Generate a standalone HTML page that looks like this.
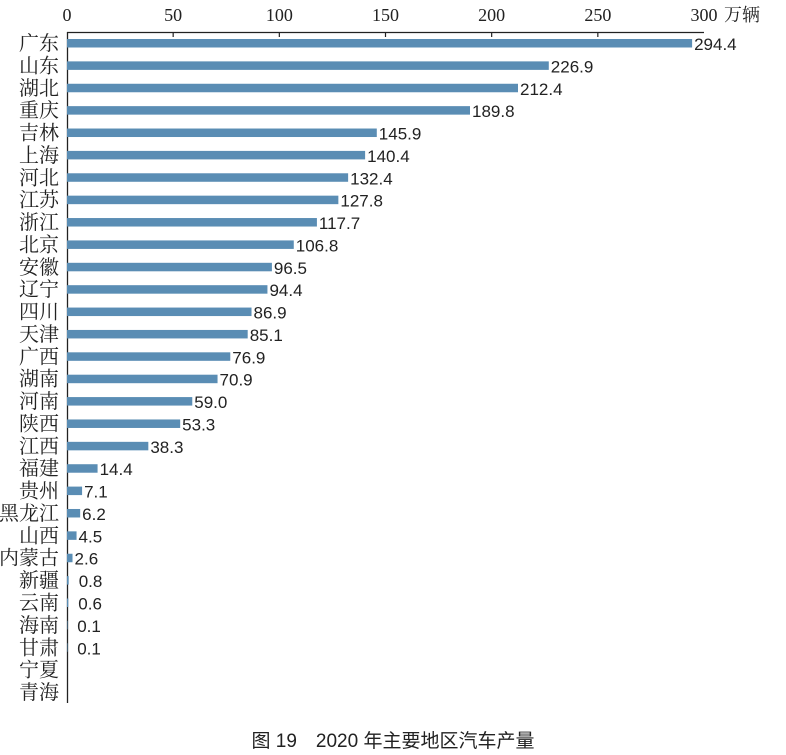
<!DOCTYPE html>
<html><head><meta charset="utf-8"><style>
body{margin:0;background:#fff;}
svg{display:block}
.c{font-family:"Liberation Serif","Noto Serif CJK SC",serif;font-size:20px;fill:#222}
.t{font-family:"Liberation Serif",serif;font-size:18px;fill:#222}
.v{font-family:"Liberation Sans",sans-serif;font-size:17px;fill:#222}
</style></head><body>
<svg width="786" height="755" xmlns="http://www.w3.org/2000/svg" id="s">
<line x1="67" y1="32.5" x2="704" y2="32.5" stroke="#222" stroke-width="1.3"/>
<line x1="67.5" y1="32" x2="67.5" y2="703" stroke="#222" stroke-width="1.3"/>
<g id="ticks"></g>
<text class="c" x="724" y="21" style="font-size:18px">万辆</text>
<g id="bars"></g>
<text x="393" y="747" text-anchor="middle" style="font-family:'Liberation Sans','Noto Sans CJK SC',sans-serif;font-size:19px;fill:#222">图 19　2020 年主要地区汽车产量</text>
</svg>
<script>
var d=[["广东",294.4],["山东",226.9],["湖北",212.4],["重庆",189.8],["吉林",145.9],["上海",140.4],["河北",132.4],["江苏",127.8],["浙江",117.7],["北京",106.8],["安徽",96.5],["辽宁",94.4],["四川",86.9],["天津",85.1],["广西",76.9],["湖南",70.9],["河南",59.0],["陕西",53.3],["江西",38.3],["福建",14.4],["贵州",7.1],["黑龙江",6.2],["山西",4.5],["内蒙古",2.6],["新疆",0.8],["云南",0.6],["海南",0.1],["甘肃",0.1],["宁夏",null],["青海",null]];
var ns="http://www.w3.org/2000/svg",k=637/300,x0=67;
function el(t,a,txt){var e=document.createElementNS(ns,t);for(var i in a)e.setAttribute(i,a[i]);if(txt!=null)e.textContent=txt;return e;}
var tg=document.getElementById("ticks");
for(var v=0;v<=300;v+=50){var x=x0+v*k;tg.appendChild(el("text",{class:"t",x:x,y:21,"text-anchor":"middle"},v));if(v>0&&v<300)tg.appendChild(el("line",{x1:x,y1:32,x2:x,y2:37,stroke:"#222","stroke-width":1.2}));}
var bg=document.getElementById("bars");
d.forEach(function(r,i){var y=43+i*22.38;
bg.appendChild(el("text",{class:"c",x:59,y:y+7,"text-anchor":"end"},r[0]));
if(r[1]!=null){var w=r[1]*k;bg.appendChild(el("rect",{x:x0,y:y-4,width:Math.max(w,0.5),height:8.5,fill:"#5a8db4"}));
bg.appendChild(el("text",{class:"v",x:x0+w+(w<3?10:2),y:y+7},r[1].toFixed(1)));}
});
</script>
</body></html>
